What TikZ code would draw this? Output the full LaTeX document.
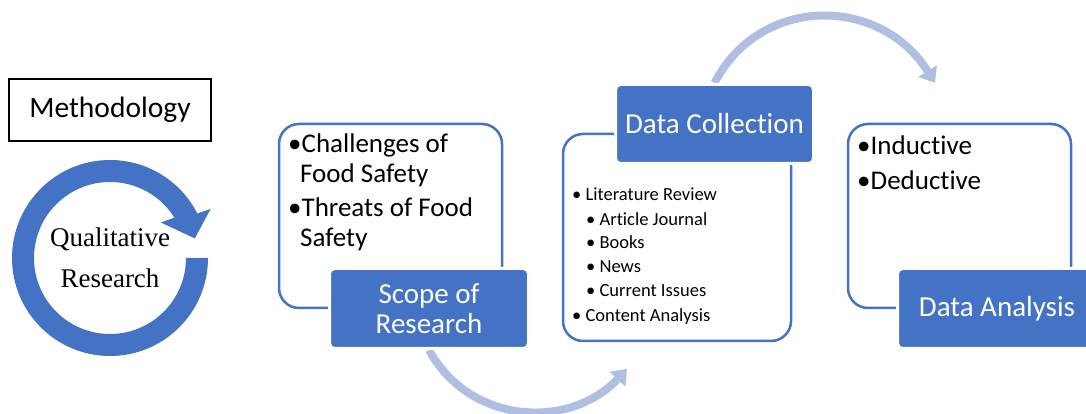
\documentclass[tikz,border=0pt]{standalone}
\usepackage{fontspec}
\setmainfont{Carlito}[Ligatures={NoCommon,NoContextual}]
\newfontfamily\serifface{Liberation Serif}
\usetikzlibrary{arrows.meta,backgrounds}
\definecolor{accent}{HTML}{4472C4}
\definecolor{flow}{HTML}{B0BEE2}

\begin{document}
\begin{tikzpicture}[x=1pt,y=1pt,
  outerbox/.style={draw=accent, line width=2.5pt, rounded corners=20pt, inner sep=0pt},
  headbox/.style={fill=accent, draw=white, line width=3pt, rounded corners=5pt,
    text=white, font=\fontsize{29}{30}\selectfont, align=center, inner sep=0pt},
  bigitem/.style={anchor=base west, inner sep=0pt, font=\fontsize{27}{30}\selectfont},
  smallitem/.style={anchor=base west, inner sep=0pt, font=\fontsize{18.5}{22}\selectfont},
  flowarrow/.style={draw=flow, line width=8pt, -{Triangle[length=14pt,width=21pt]}}
]
\useasboundingbox (0,0) rectangle (1086,414);

% title box
\node[draw=black, line width=1.2pt, minimum width=202pt, minimum height=62pt,
  inner sep=0pt, font=\fontsize{29.5}{30}\selectfont] (meth) at (110,304) {Methodology};

% circular arrow around the method label
\begin{scope}[shift={(110,156)}]
  \fill[accent] (0:98) arc[start angle=0, end angle=-333, radius=98]
    -- (-334:112) -- (-347:87) -- (-325:62) -- (-328:76)
    arc[start angle=-328, end angle=0, radius=76] -- cycle;
\end{scope}
\node[align=center, inner sep=0pt, font=\serifface\fontsize{27}{41}\selectfont]
  (qual) at (110,156.5) {Qualitative\\Research};

% frames
\node[outerbox, minimum width=223pt, minimum height=184pt] (scopeframe) at (390.5,198) {};
\node[outerbox, minimum width=228pt, minimum height=207pt] (collectframe) at (677,176.5) {};
\node[outerbox, minimum width=223pt, minimum height=184pt] (analysisframe) at (959.5,198) {};

% headings
\node[headbox, minimum width=199pt, minimum height=80pt] (scope) at (429,105.5) {Scope of\\Research};
\node[headbox, minimum width=198pt, minimum height=79pt] (collect) at (714.5,290) {Data Collection};
\node[headbox, minimum width=199pt, minimum height=80pt] (analysis) at (997,105.5) {Data Analysis};

% scope items
\node[bigitem] (s1) at (288,261) {•Challenges of};
\node[bigitem] (s1b) at (300,231) {Food Safety};
\node[bigitem] (s2) at (288,197) {•Threats of Food};
\node[bigitem] (s2b) at (300,167) {Safety};

% collection items
\node[smallitem] (c1) at (572,213) {• Literature Review};
\node[smallitem] (c2) at (586,188) {• Article Journal};
\node[smallitem] (c3) at (586,165) {• Books};
\node[smallitem] (c4) at (586,141) {• News};
\node[smallitem] (c5) at (586,117) {• Current Issues};
\node[smallitem] (c6) at (572,92) {• Content Analysis};

% analysis items
\node[bigitem] (a1) at (857,259) {•Inductive};
\node[bigitem] (a2) at (857,224) {•Deductive};

% flow arrows
\coordinate (toCollect) at (627,45);
\coordinate (toAnalysis) at (935,331);
\begin{scope}[on background layer]
  \draw[flowarrow] (scope.south) .. controls (470,-11) and (570,-16) .. (toCollect);
  \draw[flowarrow] (collect.north) .. controls (760,419) and (880,419) .. (toAnalysis);
\end{scope}
\end{tikzpicture}
\end{document}
